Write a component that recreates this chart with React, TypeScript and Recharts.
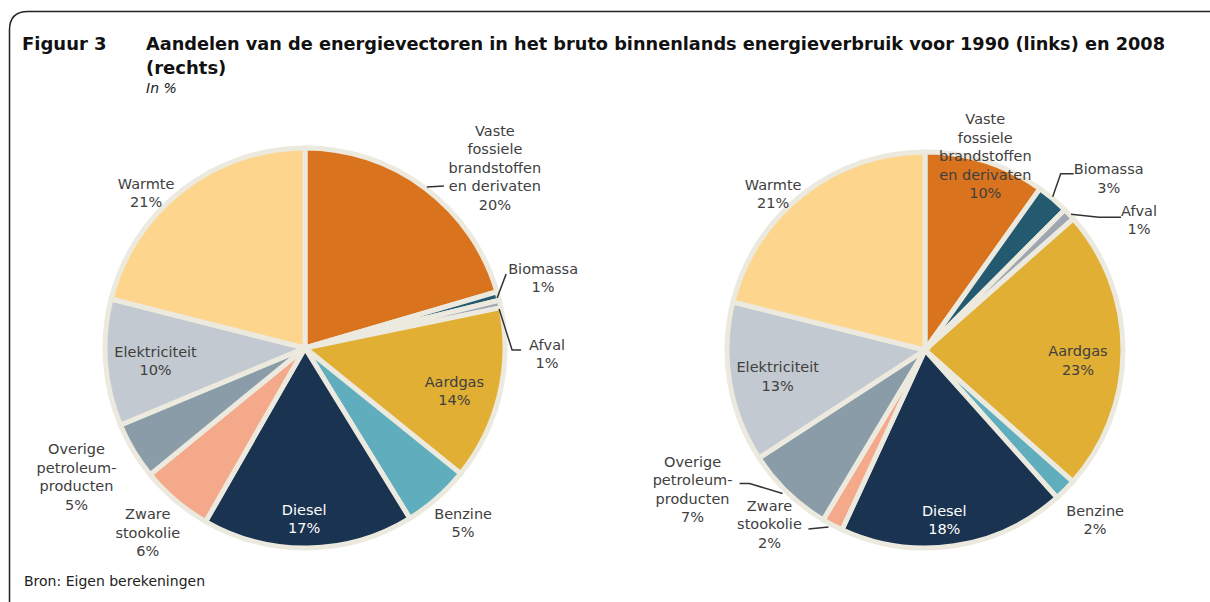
import React from "react"
import { PieChart, Pie, Cell } from "recharts"

// categories and the text lines used for their labels
const categories = [
  "Vaste fossiele brandstoffen en derivaten",
  "Biomassa",
  "Afval",
  "Aardgas",
  "Benzine",
  "Diesel",
  "Zware stookolie",
  "Overige petroleumproducten",
  "Elektriciteit",
  "Warmte",
]
const labelLines = [
  ["Vaste", "fossiele", "brandstoffen", "en derivaten"],
  ["Biomassa"],
  ["Afval"],
  ["Aardgas"],
  ["Benzine"],
  ["Diesel"],
  ["Zware", "stookolie"],
  ["Overige", "petroleum-", "producten"],
  ["Elektriciteit"],
  ["Warmte"],
]
// shares in % (1990 left, 2008 right)
const values1990 = [20.4, 0.7, 0.6, 14.0, 5.4, 17.0, 5.8, 4.6, 10.2, 21.0]
const values2008 = [9.8, 2.6, 1.0, 23.0, 1.8, 18.4, 1.7, 7.2, 13.0, 21.0]

const colors = ["#DA731D", "#235A6F", "#9EA6B2", "#E1AF33", "#5FADBD", "#1A3350", "#F4A98A", "#899CA7", "#C2C9D0", "#FED58C"]
const ring = "#ECE9DF"
const textColor = "#404040"
const font = "'DejaVu Sans', sans-serif"

type Pos = { dx: number; dy: number; leader?: number[][]; white?: boolean }

// label offsets relative to the slice's outer edge at its mid angle
const leftPos: Pos[] = [
  { dx: 70, dy: -20, leader: [[2, -1], [19, -2]] },
  { dx: 45, dy: -18, leader: [[-1, 2], [8, -22]] },
  { dx: 47, dy: 50, leader: [[-1, 5], [12, 46], [21, 46]] },
  { dx: -45, dy: -4 },
  { dx: 26, dy: 25 },
  { dx: -4, dy: -29, white: true },
  { dx: -28, dy: 32 },
  { dx: -57, dy: 26 },
  { dx: 50, dy: -2 },
  { dx: -36, dy: 3 },
]
const rightPos: Pos[] = [
  { dx: 0, dy: -5 },
  { dx: 56, dy: -20, leader: [[0, -2], [8, -25], [21, -25]] },
  { dx: 70, dy: 6, leader: [[2, 0], [30, 3], [52, 3]] },
  { dx: -45, dy: 10 },
  { dx: 30, dy: 30 },
  { dx: -10, dy: -26, white: true },
  { dx: -63, dy: -1, leader: [[-4, 2], [-24, 4]] },
  { dx: -95, dy: -3, leader: [[-5, 1], [-38, -9], [-48, -9]] },
  { dx: 48, dy: -6 },
  { dx: -30, dy: 0 },
]

const data1990 = categories.map((name, i) => ({ name, value: values1990[i], idx: i }))
const data2008 = categories.map((name, i) => ({ name, value: values2008[i], idx: i }))

const RAD = Math.PI / 180

function makeLabel(layout: Pos[]) {
  return (props: any) => {
    const { cx, cy, midAngle, outerRadius, payload, value } = props
    const i = payload.idx
    const p = layout[i]
    const ex = cx + outerRadius * Math.cos(-midAngle * RAD)
    const ey = cy + outerRadius * Math.sin(-midAngle * RAD)
    const lines = [...labelLines[i], Math.round(value) + "%"]
    const lh = 18.5
    const x = ex + p.dx
    const y0 = ey + p.dy - ((lines.length - 1) * lh) / 2
    return (
      <g key={"l" + i}>
        {p.leader && (
          <polyline
            points={p.leader.map(([a, b]) => `${ex + a},${ey + b}`).join(" ")}
            fill="none"
            stroke="#333"
            strokeWidth={1.5}
          />
        )}
        <text
          x={x}
          y={y0}
          textAnchor="middle"
          dominantBaseline="central"
          fontFamily={font}
          fontSize={14.5}
          fill={p.white ? "#ffffff" : textColor}
        >
          {lines.map((t, k) => (
            <tspan key={k} x={x} y={y0 + k * lh}>
              {t}
            </tspan>
          ))}
        </text>
      </g>
    )
  }
}

export default function App() {
  return (
    <div style={{ position: "absolute", left: 0, top: 0, width: 1210, height: 602, background: "#fff" }}>
      <PieChart width={1210} height={602} margin={{ top: 0, right: 0, bottom: 0, left: 0 }}>
        <Pie
          data={data1990}
          dataKey="value"
          nameKey="name"
          cx={305}
          cy={348}
          outerRadius={200}
          startAngle={90}
          endAngle={-270}
          stroke={ring}
          strokeWidth={5}
          labelLine={false}
          label={makeLabel(leftPos)}
          isAnimationActive={false}
        >
          {data1990.map((d) => (
            <Cell key={d.name} fill={colors[d.idx]} />
          ))}
        </Pie>
        <Pie
          data={data2008}
          dataKey="value"
          nameKey="name"
          cx={925}
          cy={350}
          outerRadius={198}
          startAngle={90}
          endAngle={-270}
          stroke={ring}
          strokeWidth={5}
          labelLine={false}
          label={makeLabel(rightPos)}
          isAnimationActive={false}
        >
          {data2008.map((d) => (
            <Cell key={d.name} fill={colors[d.idx]} />
          ))}
        </Pie>
      </PieChart>
      <svg width={1210} height={602} style={{ position: "absolute", left: 0, top: 0, pointerEvents: "none" }}>
        <path d="M9.5,602 L9.5,30 Q9.5,11.5 28,11.5 L1210,11.5" fill="none" stroke="#222" strokeWidth={1.5} />
        <g fontFamily={font} fill="#111" fontWeight="bold" fontSize={18}>
          <text x={22} y={50}>Figuur 3</text>
          <text x={146} y={50} textLength={1019} lengthAdjust="spacingAndGlyphs">
            Aandelen van de energievectoren in het bruto binnenlands energieverbruik voor 1990 (links) en 2008
          </text>
          <text x={146} y={74}>(rechts)</text>
        </g>
        <text x={146} y={93} fontFamily={font} fontSize={14} fontStyle="italic" fill="#222">
          In %
        </text>
        <text x={24} y={586} fontFamily={font} fontSize={14} fill="#222">
          Bron: Eigen berekeningen
        </text>
      </svg>
    </div>
  )
}
